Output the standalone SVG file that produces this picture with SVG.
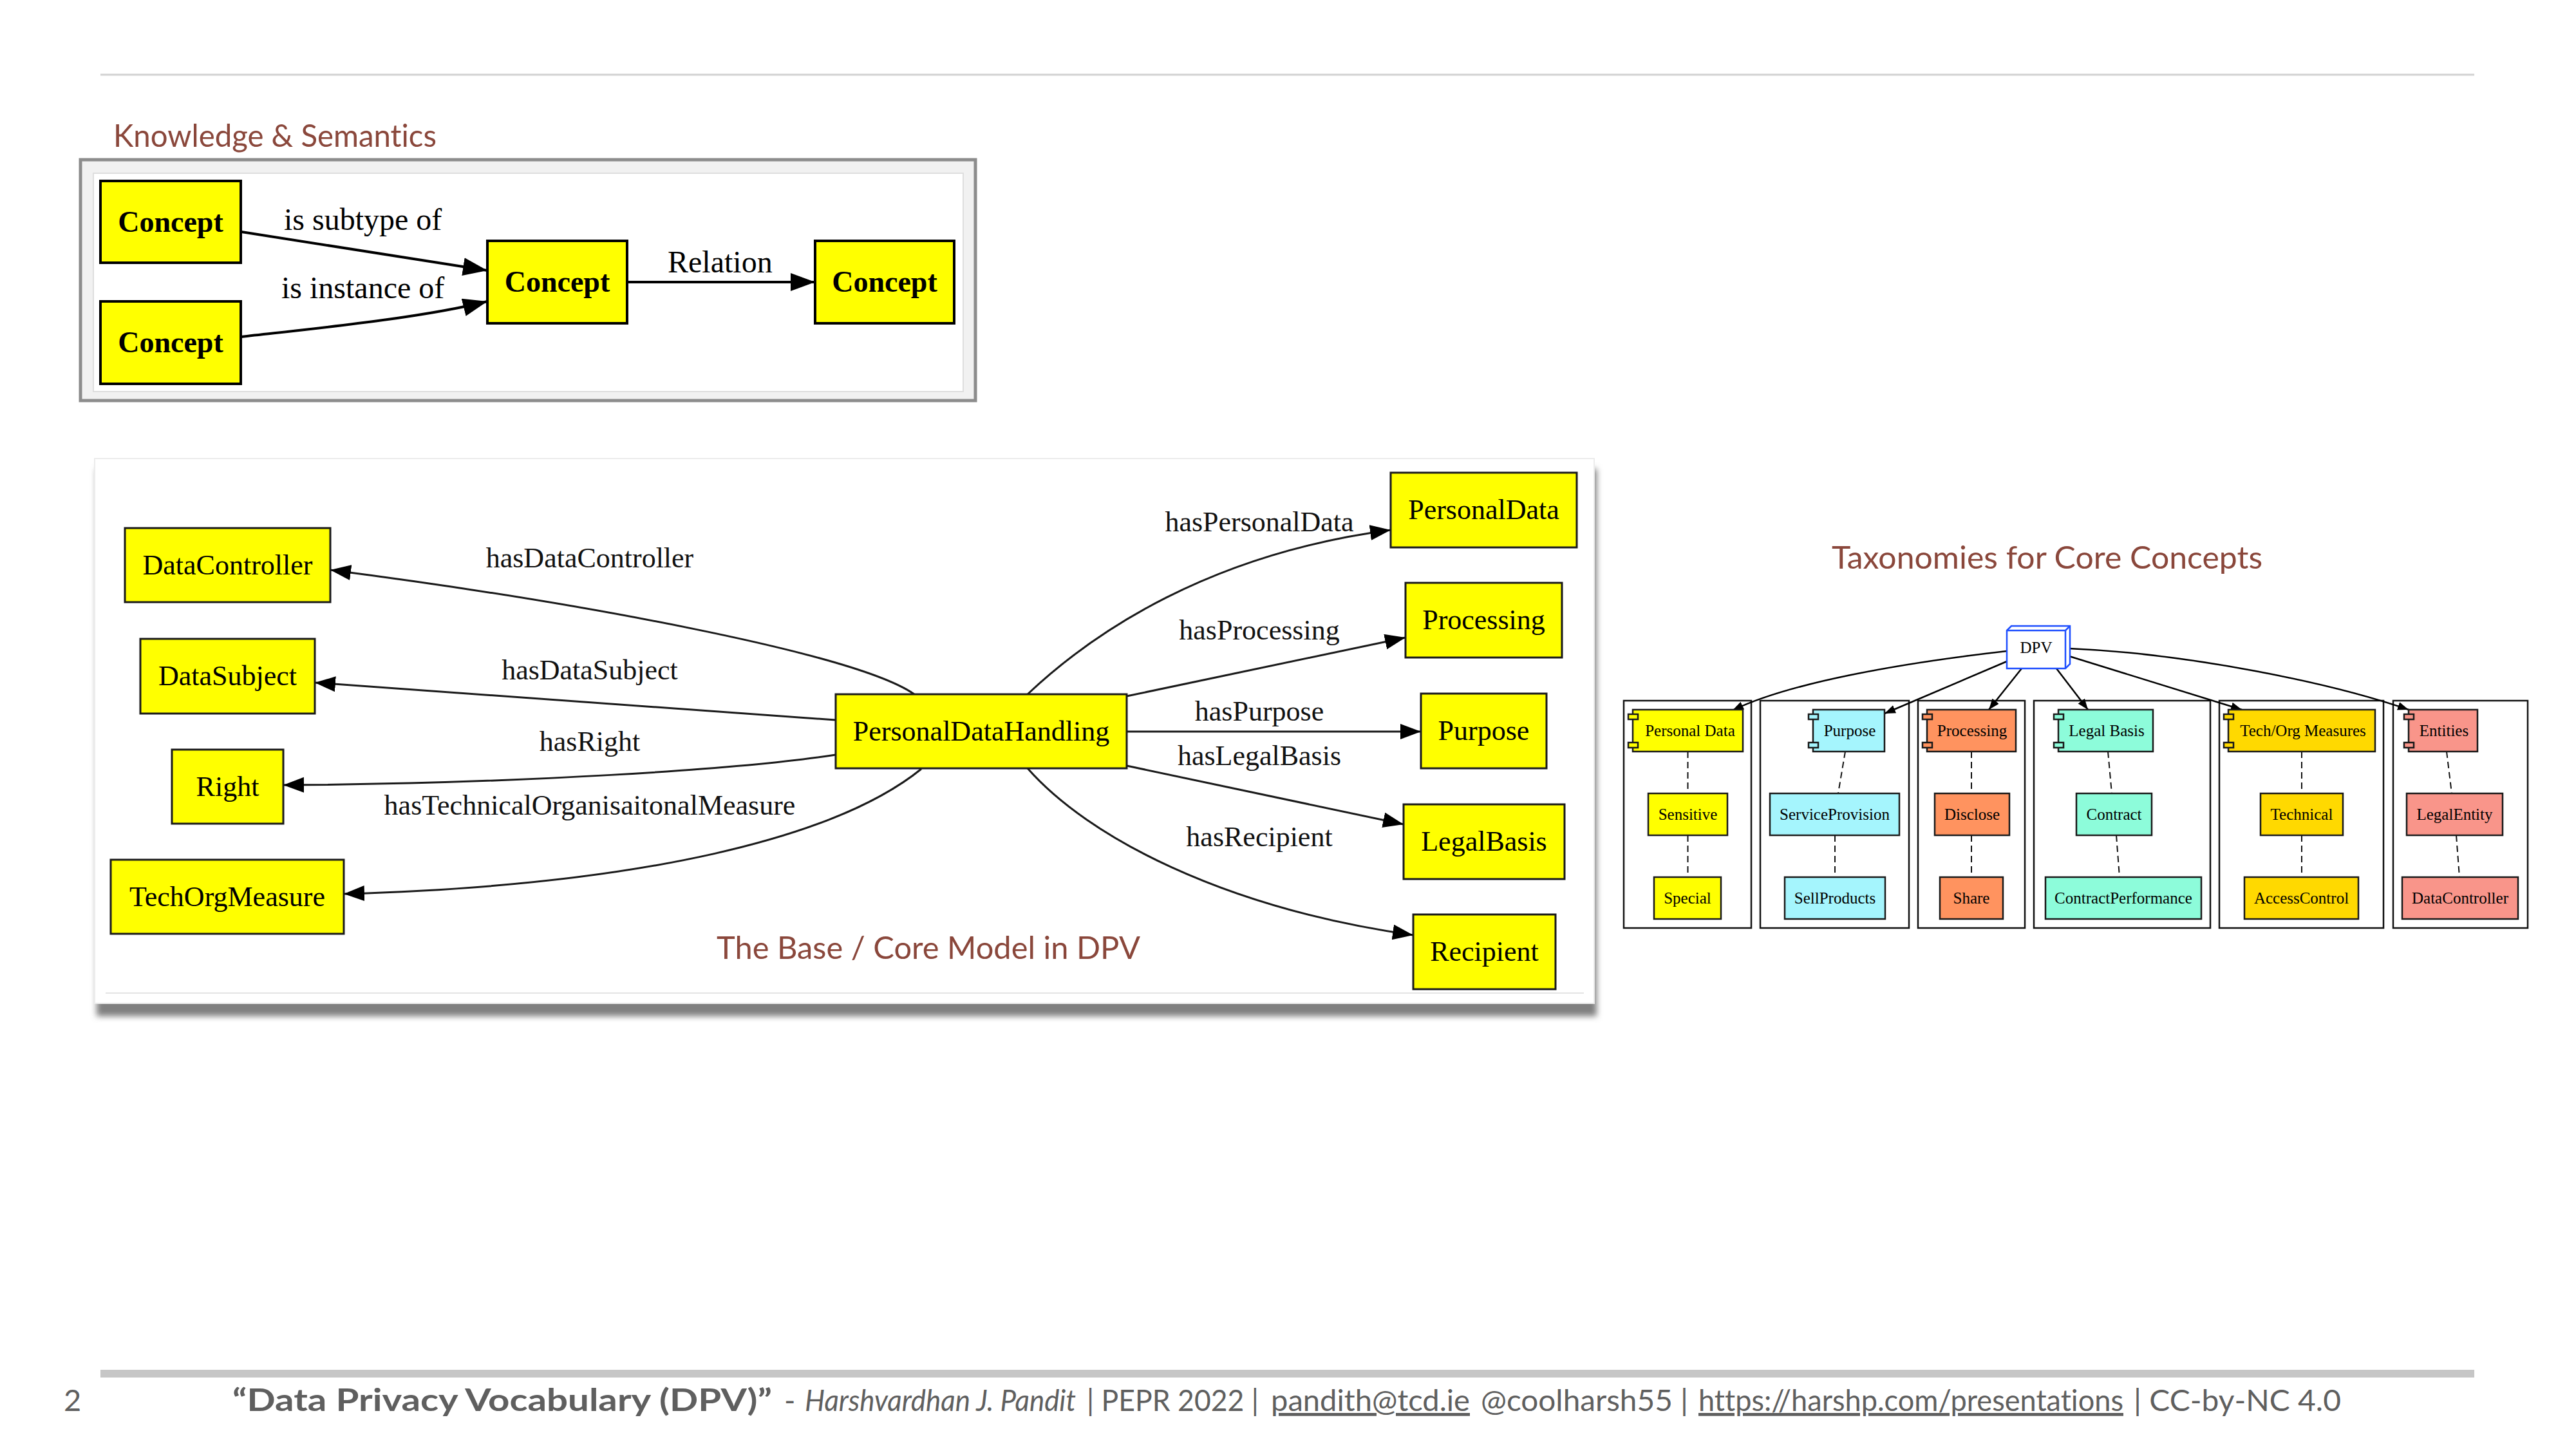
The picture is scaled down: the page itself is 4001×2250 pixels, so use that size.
<svg xmlns="http://www.w3.org/2000/svg" width="4001" height="2250" viewBox="0 0 4001 2250">
  <style>
    .serif { font-family: 'Liberation Serif', 'Times New Roman', serif; fill: #000; }
    .heading { font-family: Lato, 'Open Sans', sans-serif; fill: #8a473b; font-size: 49px; font-variant-ligatures: none; }
    .foot { font-family: Lato, 'Open Sans', sans-serif; fill: #5f5f5f; font-size: 47px; font-variant-ligatures: none; }
    .ks-node { fill: #ffff00; stroke: #000; stroke-width: 4; }
    .ks-text { font-size: 46px; font-weight: bold; text-anchor: middle; }
    .ks-edge { fill: none; stroke: #000; stroke-width: 4; marker-end: url(#arrowL); }
    .ks-label { font-size: 48px; }
    .core-node { fill: #ffff00; stroke: #1a1a1a; stroke-width: 3; }
    .core-text { font-size: 44px; text-anchor: middle; }
    .core-edge { fill: none; stroke: #1a1a1a; stroke-width: 3; marker-end: url(#arrowM); }
    .core-label { font-size: 44px; text-anchor: middle; fill: #111; }
    .cluster { fill: #fff; stroke: #111; stroke-width: 2.5; }
    .tx-node { stroke: #1a1a1a; stroke-width: 2.5; }
    .tx-text { font-size: 25px; text-anchor: middle; }
    .tx-edge { fill: none; stroke: #000; stroke-width: 2.5; marker-end: url(#arrowS); }
    .tx-dash { fill: none; stroke: #111; stroke-width: 2; stroke-dasharray: 10 6; }
    .pd { fill: #ffff00; }
    .pu { fill: #a5f5fd; }
    .pr { fill: #ff935f; }
    .lb { fill: #8dfcda; }
    .tom { fill: #ffd900; }
    .en { fill: #f9958a; }
  </style>
  <defs>
    <marker id="arrowL" markerUnits="userSpaceOnUse" markerWidth="40" markerHeight="30" refX="38" refY="14" orient="auto">
      <path d="M0,0 L38,14 L0,28 z" fill="#000"/>
    </marker>
    <marker id="arrowM" markerUnits="userSpaceOnUse" markerWidth="34" markerHeight="26" refX="32" refY="12" orient="auto">
      <path d="M0,0 L32,12 L0,24 z" fill="#000"/>
    </marker>
    <marker id="arrowS" markerUnits="userSpaceOnUse" markerWidth="18" markerHeight="14" refX="17" refY="6.5" orient="auto">
      <path d="M0,0 L17,6.5 L0,13 z" fill="#000"/>
    </marker>
    <filter id="softShadow" x="-5%" y="-10%" width="110%" height="130%">
      <feGaussianBlur stdDeviation="5"/>
    </filter>
  </defs>

  <rect width="4001" height="2250" fill="#fff"/>

  <!-- header rule -->
  <line x1="156" y1="116" x2="3843" y2="116" stroke="#d2d2d2" stroke-width="3"/>

  <!-- ===== Knowledge & Semantics ===== -->
  <text class="heading" x="176" y="228" textLength="502" lengthAdjust="spacingAndGlyphs">Knowledge &amp; Semantics</text>
  <g id="ks-frame">
    <rect x="125" y="248" width="1390" height="374" fill="#f1f1f1" stroke="#8c8c8c" stroke-width="5"/>
    <rect x="145" y="269" width="1351" height="339" fill="#fff" stroke="#dedede" stroke-width="2"/>
  </g>
  <g id="ks-connectors">
    <path class="ks-edge" d="M375,360 L757,420"/>
    <path class="ks-edge" d="M375,523 C470,512 650,495 757,468"/>
    <path class="ks-edge" d="M974,438 L1266,438"/>
    <text class="serif ks-label" x="441" y="357">is subtype of</text>
    <text class="serif ks-label" x="437" y="463">is instance of</text>
    <text class="serif ks-label" x="1037" y="423">Relation</text>
  </g>
  <g id="ks-concept-1">
    <rect class="ks-node" x="156" y="281" width="218" height="127"/>
    <text class="serif ks-text" x="265" y="360">Concept</text>
  </g>
  <g id="ks-concept-2">
    <rect class="ks-node" x="156" y="468" width="218" height="128"/>
    <text class="serif ks-text" x="265" y="547">Concept</text>
  </g>
  <g id="ks-concept-3">
    <rect class="ks-node" x="757" y="374" width="217" height="128"/>
    <text class="serif ks-text" x="865.5" y="453">Concept</text>
  </g>
  <g id="ks-concept-4">
    <rect class="ks-node" x="1266" y="374" width="216" height="128"/>
    <text class="serif ks-text" x="1374" y="453">Concept</text>
  </g>

  <!-- ===== Base / Core Model ===== -->
  <g id="core-frame">
    <rect x="150" y="728" width="2330" height="850" fill="#808080" filter="url(#softShadow)"/>
    <rect x="147" y="712" width="2329" height="846" fill="#fff" stroke="#ececec" stroke-width="2"/>
    <line x1="164" y1="1542" x2="2460" y2="1542" stroke="#e4e4e4" stroke-width="2"/>
  </g>
  <g id="core-connectors">
    <path class="core-edge" d="M1420,1078 C1330,1015 900,935 513,885"/>
    <path class="core-edge" d="M1298,1118 L489,1060"/>
    <path class="core-edge" d="M1298,1172 C1150,1195 800,1217 440,1219"/>
    <path class="core-edge" d="M1431,1194 C1300,1300 1000,1375 534,1388"/>
    <path class="core-edge" d="M1596,1078 C1700,980 1880,860 2160,823"/>
    <path class="core-edge" d="M1750,1081 L2183,990"/>
    <path class="core-edge" d="M1750,1136 L2207,1136"/>
    <path class="core-edge" d="M1750,1189 L2180,1280"/>
    <path class="core-edge" d="M1596,1193 C1690,1300 1900,1410 2195,1452"/>
    <text class="serif core-label" x="916" y="881">hasDataController</text>
    <text class="serif core-label" x="916" y="1055">hasDataSubject</text>
    <text class="serif core-label" x="916" y="1166">hasRight</text>
    <text class="serif core-label" x="916" y="1265">hasTechnicalOrganisaitonalMeasure</text>
    <text class="serif core-label" x="1956" y="825">hasPersonalData</text>
    <text class="serif core-label" x="1956" y="993">hasProcessing</text>
    <text class="serif core-label" x="1956" y="1119">hasPurpose</text>
    <text class="serif core-label" x="1956" y="1188">hasLegalBasis</text>
    <text class="serif core-label" x="1956" y="1314">hasRecipient</text>
  </g>
  <g id="core-DataController">
    <rect class="core-node" x="194" y="820" width="319" height="115"/>
    <text class="serif core-text" x="353.5" y="892">DataController</text>
  </g>
  <g id="core-DataSubject">
    <rect class="core-node" x="218" y="992" width="271" height="116"/>
    <text class="serif core-text" x="353.5" y="1064">DataSubject</text>
  </g>
  <g id="core-Right">
    <rect class="core-node" x="267" y="1164" width="173" height="115"/>
    <text class="serif core-text" x="353.5" y="1236">Right</text>
  </g>
  <g id="core-TechOrgMeasure">
    <rect class="core-node" x="172" y="1335" width="362" height="115"/>
    <text class="serif core-text" x="353" y="1407">TechOrgMeasure</text>
  </g>
  <g id="core-PersonalDataHandling">
    <rect class="core-node" x="1298" y="1078" width="452" height="115"/>
    <text class="serif core-text" x="1524" y="1150">PersonalDataHandling</text>
  </g>
  <g id="core-PersonalData">
    <rect class="core-node" x="2160" y="734" width="289" height="116"/>
    <text class="serif core-text" x="2304.5" y="806">PersonalData</text>
  </g>
  <g id="core-Processing">
    <rect class="core-node" x="2183" y="905" width="243" height="116"/>
    <text class="serif core-text" x="2304.5" y="977">Processing</text>
  </g>
  <g id="core-Purpose">
    <rect class="core-node" x="2207" y="1077" width="195" height="116"/>
    <text class="serif core-text" x="2304.5" y="1149">Purpose</text>
  </g>
  <g id="core-LegalBasis">
    <rect class="core-node" x="2180" y="1249" width="250" height="116"/>
    <text class="serif core-text" x="2305" y="1321">LegalBasis</text>
  </g>
  <g id="core-Recipient">
    <rect class="core-node" x="2195" y="1420" width="221" height="116"/>
    <text class="serif core-text" x="2305.5" y="1492">Recipient</text>
  </g>
  <text class="heading" x="1113" y="1489" textLength="658" lengthAdjust="spacingAndGlyphs">The Base / Core Model in DPV</text>

  <!-- ===== Taxonomies ===== -->
  <text class="heading" x="2845" y="883" textLength="669" lengthAdjust="spacingAndGlyphs">Taxonomies for Core Concepts</text>
  <g id="tx-clusters">
    <rect class="cluster" x="2522" y="1088" width="198" height="353"/>
    <rect class="cluster" x="2734" y="1088" width="231" height="353"/>
    <rect class="cluster" x="2979" y="1088" width="166" height="353"/>
    <rect class="cluster" x="3159" y="1088" width="274" height="353"/>
    <rect class="cluster" x="3447" y="1088" width="255" height="353"/>
    <rect class="cluster" x="3717" y="1088" width="209" height="353"/>
  </g>
  <g id="tx-connectors">
    <path class="tx-edge" d="M3117,1011 C2950,1030 2780,1060 2691,1103"/>
    <path class="tx-edge" d="M3117,1027 L2927,1108"/>
    <path class="tx-edge" d="M3140,1038 L3089,1102"/>
    <path class="tx-edge" d="M3194,1038 L3243,1102"/>
    <path class="tx-edge" d="M3214,1019 L3482,1102"/>
    <path class="tx-edge" d="M3214,1007 C3400,1015 3620,1060 3741,1102"/>
    <path class="tx-dash" d="M2621.5,1167 L2621.5,1232 M2621.5,1297 L2621.5,1362"/>
    <path class="tx-dash" d="M2866,1167 L2855,1232 M2850,1297 L2850,1362"/>
    <path class="tx-dash" d="M3062,1167 L3062,1232 M3062,1297 L3062,1362"/>
    <path class="tx-dash" d="M3274,1167 L3280,1232 M3287,1297 L3292,1362"/>
    <path class="tx-dash" d="M3575,1167 L3575,1232 M3575,1297 L3575,1362"/>
    <path class="tx-dash" d="M3800,1167 L3808,1232 M3815,1297 L3820,1362"/>
  </g>
  <g id="tx-DPV">
    <path d="M3117,979 L3124,972 L3215,972 L3215,1031 L3208,1038 L3117,1038 Z" fill="#fff" stroke="#1f4fff" stroke-width="2.5"/>
    <path d="M3117,979 L3208,979 L3208,1038 M3208,979 L3215,972" fill="none" stroke="#1f4fff" stroke-width="2.5"/>
    <text class="serif tx-text" x="3162.5" y="1014">DPV</text>
  </g>
  <g id="tx-PersonalData">
    <rect class="tx-node pd" x="2536" y="1102" width="171" height="65"/>
    <rect class="tx-node pd" x="2529" y="1109" width="15" height="8" stroke-width="2"/>
    <rect class="tx-node pd" x="2529" y="1153" width="15" height="8" stroke-width="2"/>
    <text class="serif tx-text" x="2625" y="1143">Personal Data</text>
  </g>
  <g id="tx-Sensitive">
    <rect class="tx-node pd" x="2560" y="1232" width="123" height="65"/>
    <text class="serif tx-text" x="2621.5" y="1273">Sensitive</text>
  </g>
  <g id="tx-Special">
    <rect class="tx-node pd" x="2569" y="1362" width="104" height="65"/>
    <text class="serif tx-text" x="2621" y="1403">Special</text>
  </g>
  <g id="tx-Purpose">
    <rect class="tx-node pu" x="2816" y="1102" width="111" height="65"/>
    <rect class="tx-node pu" x="2809" y="1109" width="15" height="8" stroke-width="2"/>
    <rect class="tx-node pu" x="2809" y="1153" width="15" height="8" stroke-width="2"/>
    <text class="serif tx-text" x="2873" y="1143">Purpose</text>
  </g>
  <g id="tx-ServiceProvision">
    <rect class="tx-node pu" x="2749" y="1232" width="201" height="65"/>
    <text class="serif tx-text" x="2849.5" y="1273">ServiceProvision</text>
  </g>
  <g id="tx-SellProducts">
    <rect class="tx-node pu" x="2772" y="1362" width="156" height="65"/>
    <text class="serif tx-text" x="2850" y="1403">SellProducts</text>
  </g>
  <g id="tx-Processing">
    <rect class="tx-node pr" x="2993" y="1102" width="138" height="65"/>
    <rect class="tx-node pr" x="2986" y="1109" width="15" height="8" stroke-width="2"/>
    <rect class="tx-node pr" x="2986" y="1153" width="15" height="8" stroke-width="2"/>
    <text class="serif tx-text" x="3063" y="1143">Processing</text>
  </g>
  <g id="tx-Disclose">
    <rect class="tx-node pr" x="3005" y="1232" width="116" height="65"/>
    <text class="serif tx-text" x="3063" y="1273">Disclose</text>
  </g>
  <g id="tx-Share">
    <rect class="tx-node pr" x="3013" y="1362" width="98" height="65"/>
    <text class="serif tx-text" x="3062" y="1403">Share</text>
  </g>
  <g id="tx-LegalBasis">
    <rect class="tx-node lb" x="3197" y="1102" width="147" height="65"/>
    <rect class="tx-node lb" x="3190" y="1109" width="15" height="8" stroke-width="2"/>
    <rect class="tx-node lb" x="3190" y="1153" width="15" height="8" stroke-width="2"/>
    <text class="serif tx-text" x="3272" y="1143">Legal Basis</text>
  </g>
  <g id="tx-Contract">
    <rect class="tx-node lb" x="3225" y="1232" width="117" height="65"/>
    <text class="serif tx-text" x="3283.5" y="1273">Contract</text>
  </g>
  <g id="tx-ContractPerformance">
    <rect class="tx-node lb" x="3177" y="1362" width="242" height="65"/>
    <text class="serif tx-text" x="3298" y="1403">ContractPerformance</text>
  </g>
  <g id="tx-TechOrgMeasures">
    <rect class="tx-node tom" x="3461" y="1102" width="228" height="65"/>
    <rect class="tx-node tom" x="3454" y="1109" width="15" height="8" stroke-width="2"/>
    <rect class="tx-node tom" x="3454" y="1153" width="15" height="8" stroke-width="2"/>
    <text class="serif tx-text" x="3577" y="1143">Tech/Org Measures</text>
  </g>
  <g id="tx-Technical">
    <rect class="tx-node tom" x="3511" y="1232" width="128" height="65"/>
    <text class="serif tx-text" x="3575" y="1273">Technical</text>
  </g>
  <g id="tx-AccessControl">
    <rect class="tx-node tom" x="3486" y="1362" width="177" height="65"/>
    <text class="serif tx-text" x="3574.5" y="1403">AccessControl</text>
  </g>
  <g id="tx-Entities">
    <rect class="tx-node en" x="3741" y="1102" width="107" height="65"/>
    <rect class="tx-node en" x="3734" y="1109" width="15" height="8" stroke-width="2"/>
    <rect class="tx-node en" x="3734" y="1153" width="15" height="8" stroke-width="2"/>
    <text class="serif tx-text" x="3796" y="1143">Entities</text>
  </g>
  <g id="tx-LegalEntity">
    <rect class="tx-node en" x="3738" y="1232" width="149" height="65"/>
    <text class="serif tx-text" x="3812.5" y="1273">LegalEntity</text>
  </g>
  <g id="tx-DataController">
    <rect class="tx-node en" x="3731" y="1362" width="180" height="65"/>
    <text class="serif tx-text" x="3821" y="1403">DataController</text>
  </g>

  <!-- ===== footer ===== -->
  <rect x="156" y="2127" width="3687" height="12" fill="#c6c6c6"/>
  <text class="foot" x="99" y="2191">2</text>
  <text class="foot" x="361" y="2191" font-weight="bold" textLength="838" lengthAdjust="spacingAndGlyphs">“Data Privacy Vocabulary (DPV)”</text>
  <text class="foot" x="1218" y="2191">-</text>
  <text class="foot" x="1250" y="2191" font-style="italic" textLength="421" lengthAdjust="spacingAndGlyphs">Harshvardhan J. Pandit</text>
  <text class="foot" x="1688" y="2191" textLength="267" lengthAdjust="spacingAndGlyphs">| PEPR 2022 |</text>
  <text class="foot" x="1974" y="2191" text-decoration="underline" textLength="309" lengthAdjust="spacingAndGlyphs">pandith@tcd.ie</text>
  <text class="foot" x="2300" y="2191" textLength="322" lengthAdjust="spacingAndGlyphs">@coolharsh55 |</text>
  <text class="foot" x="2638" y="2191" text-decoration="underline" textLength="660" lengthAdjust="spacingAndGlyphs">https://harshp.com/presentations</text>
  <text class="foot" x="3314" y="2191" textLength="322" lengthAdjust="spacingAndGlyphs">| CC-by-NC 4.0</text>
</svg>
